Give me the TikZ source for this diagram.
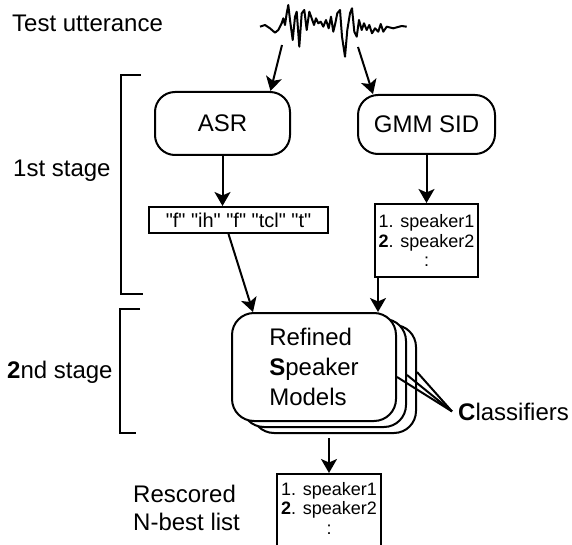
\documentclass[tikz,border=0pt]{standalone}
\usepackage{fontspec}
\setmainfont{Liberation Sans}
\usetikzlibrary{shapes.geometric, arrows.meta}
\tikzstyle{module} =[rectangle, rounded corners=20pt, minimum width=135pt, minimum height=63pt, text centered, draw=black, line width=2pt, font=\fontsize{24}{29}\selectfont]
\tikzstyle{model} =[rectangle, rounded corners=22pt, minimum width=164pt, minimum height=108pt, align=left, draw=black, fill=white, line width=2pt, font=\fontsize{24}{30}\selectfont]
\tikzstyle{listbox} =[rectangle, align=center, draw=black, line width=2pt, font=\fontsize{18}{19.5}\selectfont]
\tikzstyle{caption} =[inner sep=0pt, align=left, font=\fontsize{24}{28}\selectfont]
\tikzstyle{line} =[line width=2pt]
\tikzstyle{arrow} =[line width=2pt, -{Stealth[length=14pt, width=16pt, inset=3.5pt]}]
\newcommand{\qt}[1]{\textquotedbl#1\textquotedbl}
\begin{document}
\begin{tikzpicture}[x=1pt, y=-1pt]
\useasboundingbox (0,0) rectangle (572,545);
\node (utt) [caption, anchor=base west] at (12,32) {Test utterance};
\node (stage1) [caption, anchor=base west] at (13,177) {1st stage};
\node (stage2) [caption, anchor=base west] at (7,378) {\textbf{2}nd stage};
\node (resc) [caption, anchor=north west] at (133,484.5) {Rescored\\N-best list};
% speech signal
\draw [line, line join=round] plot coordinates {(260,26.7) (265,25) (270,28.3) (275,32.7) (278.3,30) (281.7,23.3) (283.3,18.3) (285,25) (286.7,13.3) (288.3,5) (290,20) (292.7,40) (295,16.7) (296.7,11.7) (299.3,46.7) (301.7,13.3) (304.3,10) (306.7,30) (309.3,11.7) (311.7,18.3) (314,25) (316,18.3) (318.3,23.3) (320.7,21.7) (323.3,26.7) (326,20) (328.7,28.3) (331,16.7) (333.3,31.7) (335.3,23.3) (337.3,13.3) (340,10) (342,36.7) (345,56.7) (347.3,30) (350,13.3) (352,8.3) (354.3,31.7) (356.7,36.7) (359,20) (361.7,30) (364,23.3) (366.7,30) (369.3,25) (372,33.3) (375,28.3) (378.3,31.7) (380.7,24) (383.3,31.7) (386.7,26.7) (393.3,28.3) (401.7,26) (406.7,26.7)};
\coordinate (w1) at (282,45);
\coordinate (w2) at (358,47);
% stage brackets
\draw [line] (141,75) -- (121,75) -- (121,294) -- (143,294);
\draw [line] (140,309) -- (120,309) -- (120,433) -- (136,433);
\node (asr) [module] at (222.5,123.5) {ASR};
\node (gmm) [module, minimum width=137pt, minimum height=59pt] at (426.5,124.5) {GMM SID};
\node (phon) [listbox, font=\fontsize{20}{24}\selectfont, minimum width=179pt, minimum height=26pt, inner sep=0pt] at (238.5,220) {\qt{f} \qt{ih} \qt{f} \qt{tcl} \qt{t}};
\node (nbest) [listbox, minimum width=103pt, minimum height=73pt] at (426.5,240.5) {1. speaker1\\\textbf{2}. speaker2\\:};
\node (rsm3) [model] at (334,379) {};
\node (rsm2) [model] at (324,373) {};
\node (rsm) [model] at (314,367) {Refined\\\textbf{S}peaker\\Models};
\node (cls) [caption, anchor=base west] at (458,420) {\textbf{C}lassifiers};
\node (rlist) [listbox, anchor=north, inner xsep=3pt, inner ysep=8pt, minimum width=104pt] at (329,473) {1. speaker1\\\textbf{2}. speaker2\\:\rule[-20pt]{0pt}{20pt}};
\draw [arrow] (w1) -- ([xshift=48pt]asr.north);
\draw [arrow] (w2) -- ([xshift=-53.5pt]gmm.north);
\draw [arrow] (asr.south) -- (asr.south |- phon.north);
\draw [arrow] (gmm) -- (nbest);
\draw [arrow] ([xshift=-10pt]phon.south) -- ([xshift=-61pt]rsm.north);
\draw [arrow] ([xshift=-48.5pt]nbest.south) -- ([xshift=-48.5pt]nbest.south |- rsm.north);
\draw [arrow] ([yshift=-4pt]rlist.north |- rsm3.south) -- (rlist.north);
\draw [line] ([yshift=-10pt]rsm.east) -- ([xshift=-6pt]cls.west);
\draw [line] ([yshift=-2pt]rsm2.east) -- ([xshift=-6pt]cls.west);
\draw [line] ([yshift=7pt]rsm3.east) -- ([xshift=-6pt]cls.west);
\end{tikzpicture}
\end{document}
